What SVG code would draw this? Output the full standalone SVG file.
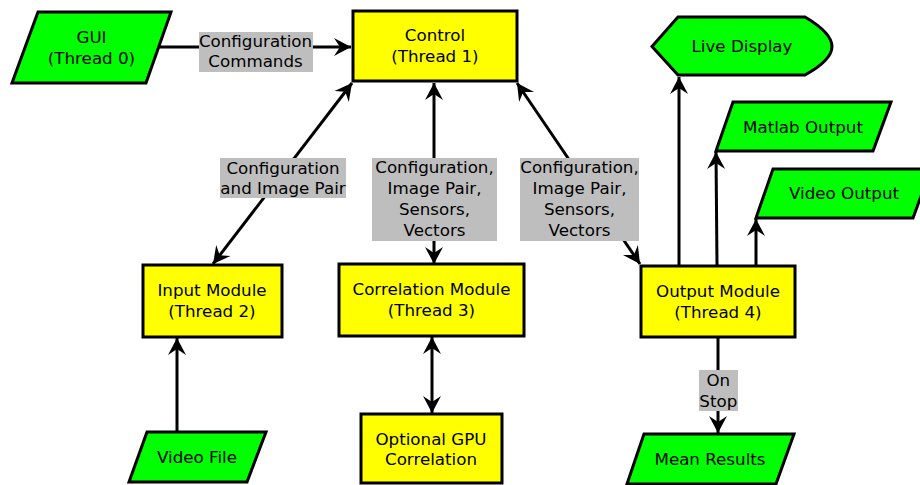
<svg xmlns="http://www.w3.org/2000/svg" width="920" height="485" viewBox="0 0 920 485">
<style>
text{font-family:"DejaVu Sans","Liberation Sans",sans-serif;font-size:16.7px;fill:#000;text-anchor:middle}
.g{fill:#00ff00;stroke:#000;stroke-width:3;stroke-linejoin:miter}
.y{fill:#ffff00;stroke:#000;stroke-width:3}
.c{stroke:#000;stroke-width:3;fill:none}
.lb{fill:#bebebe}
</style>
<defs>
<marker id="ah" markerUnits="userSpaceOnUse" markerWidth="24" markerHeight="24" viewBox="-20 -12 24 24" refX="0" refY="0" orient="auto-start-reverse">
<path d="M0,0 L-17,-9 L-11,0 L-17,9 Z" fill="#000"/>
</marker>
</defs>
<g id="connectors">
<line class="c" x1="159" y1="47" x2="351" y2="47" marker-end="url(#ah)"/>
<line class="c" x1="213" y1="264" x2="352" y2="83" marker-start="url(#ah)" marker-end="url(#ah)"/>
<line class="c" x1="434" y1="83" x2="434" y2="264" marker-start="url(#ah)" marker-end="url(#ah)"/>
<line class="c" x1="517" y1="83" x2="640" y2="264" marker-start="url(#ah)" marker-end="url(#ah)"/>
<line class="c" x1="679" y1="265" x2="679" y2="77" marker-end="url(#ah)"/>
<line class="c" x1="717" y1="265" x2="716" y2="152" marker-end="url(#ah)"/>
<line class="c" x1="756" y1="265" x2="756" y2="219" marker-end="url(#ah)"/>
<line class="c" x1="177" y1="432" x2="177" y2="338" marker-end="url(#ah)"/>
<line class="c" x1="432" y1="337" x2="432" y2="413" marker-start="url(#ah)" marker-end="url(#ah)"/>
<line class="c" x1="718" y1="338" x2="718" y2="433" marker-end="url(#ah)"/>
<rect class="lb" x="199" y="32" width="114" height="40"/>
<text x="255.5" y="47">Configuration</text>
<text x="255.5" y="67">Commands</text>
<rect class="lb" x="220" y="158" width="126" height="40"/>
<text x="283" y="173.5">Configuration</text>
<text x="283" y="194">and Image Pair</text>
<rect class="lb" x="372" y="158" width="125" height="83"/>
<text x="434.5" y="173">Configuration,</text>
<text x="434.5" y="194">Image Pair,</text>
<text x="434.5" y="215">Sensors,</text>
<text x="434.5" y="235.5">Vectors</text>
<rect class="lb" x="520" y="158" width="119" height="83"/>
<text x="579.5" y="173">Configuration,</text>
<text x="579.5" y="194">Image Pair,</text>
<text x="579.5" y="215">Sensors,</text>
<text x="579.5" y="235.5">Vectors</text>
<rect class="lb" x="699" y="370" width="39" height="41"/>
<text x="718.3" y="386">On</text>
<text x="718.3" y="407">Stop</text>
</g>
<g id="gui">
<polygon class="g" points="38,12 171,12 146,83 12,83"/>
<text x="91.5" y="43">GUI</text>
<text x="91.5" y="64">(Thread 0)</text>
</g>
<g id="control">
<rect class="y" x="353" y="11" width="164" height="70"/>
<text x="435" y="41">Control</text>
<text x="435" y="62">(Thread 1)</text>
</g>
<g id="live-display">
<path class="g" d="M652,46.5 L678,17 L805,17 Q832,33 832,46.5 Q832,60 805,75 L678,75 Z"/>
<text x="742" y="52">Live Display</text>
</g>
<g id="matlab-output">
<polygon class="g" points="733,102 891,102 873,151 716,151"/>
<text x="803" y="132.5">Matlab Output</text>
</g>
<g id="video-output">
<polygon class="g" points="773,169 931,169 913,218 756,218"/>
<text x="844" y="198.5">Video Output</text>
</g>
<g id="input-module">
<rect class="y" x="143" y="265" width="139" height="72"/>
<text x="212" y="296">Input Module</text>
<text x="212" y="317">(Thread 2)</text>
</g>
<g id="correlation-module">
<rect class="y" x="339" y="264" width="185" height="72"/>
<text x="431.5" y="295">Correlation Module</text>
<text x="431.5" y="316">(Thread 3)</text>
</g>
<g id="output-module">
<rect class="y" x="641" y="266" width="154" height="71"/>
<text x="718" y="296.5">Output Module</text>
<text x="718" y="317.5">(Thread 4)</text>
</g>
<g id="video-file">
<polygon class="g" points="147,432 266,432 247,482 129,482"/>
<text x="197" y="462.5">Video File</text>
</g>
<g id="gpu-correlation">
<rect class="y" x="361" y="414" width="141" height="69"/>
<text x="431" y="444.5">Optional GPU</text>
<text x="431" y="465">Correlation</text>
</g>
<g id="mean-results">
<polygon class="g" points="644,434 794,434 776,484 627,484"/>
<text x="710" y="464.5">Mean Results</text>
</g>
</svg>
